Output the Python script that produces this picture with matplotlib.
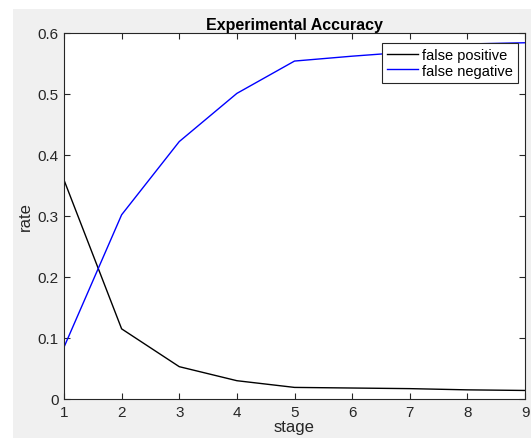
import numpy as np
import matplotlib.pyplot as plt
from matplotlib.patches import Rectangle

plt.rcParams['font.family'] = ['Liberation Sans', 'DejaVu Sans']

# values
stage = [1, 2, 3, 4, 5, 6, 7, 8, 9]
false_positive = [0.359, 0.115, 0.053, 0.030, 0.019, 0.018, 0.017, 0.015, 0.014]
false_negative = [0.085, 0.302, 0.422, 0.501, 0.554, 0.562, 0.569, 0.582, 0.584]

fig = plt.figure(figsize=(5.31, 4.39), dpi=100, facecolor='white')
# gray MATLAB figure area (screenshot has a thin white margin top/left)
fig.patches.append(Rectangle((13 / 531, 0), 1, 1 - 10 / 439,
                             transform=fig.transFigure, facecolor='#f0f0f0',
                             edgecolor='none', zorder=-10))

ax = fig.add_axes([64 / 531, 1 - 400 / 439, (525 - 64) / 531, (400 - 34) / 439])
ax.plot(stage, false_positive, color='black', lw=1, label='false positive')
ax.plot(stage, false_negative, color='blue', lw=1, label='false negative')

ax.set_xlim(1, 9)
ax.set_ylim(0, 0.6)
ax.set_xticks(stage)
ax.set_yticks([0, 0.1, 0.2, 0.3, 0.4, 0.5, 0.6])
ax.set_yticklabels(['0', '0.1', '0.2', '0.3', '0.4', '0.5', '0.6'])

txt = '#262626'
for s in ax.spines.values():
    s.set_color(txt)
    s.set_linewidth(0.8)
ax.tick_params(direction='in', top=True, right=True, length=4, width=0.8,
               colors=txt, labelsize=11, pad=4)

ax.set_title('Experimental Accuracy', fontsize=11.5, fontweight='bold', pad=3)
ax.set_xlabel('stage', fontsize=12, color=txt, labelpad=0)
ax.set_ylabel('rate', fontsize=12, color=txt, labelpad=3)

leg = ax.legend(loc='upper right', bbox_to_anchor=(1 - 7 / 461, 1 - 10 / 366),
                fontsize=10.5, fancybox=False, framealpha=1, edgecolor=txt,
                handlelength=2.1, handletextpad=0.3, borderpad=0.35,
                labelspacing=0.1, borderaxespad=0)
leg.get_frame().set_linewidth(0.8)

fig.savefig('out.png', dpi=100, facecolor=fig.get_facecolor())
